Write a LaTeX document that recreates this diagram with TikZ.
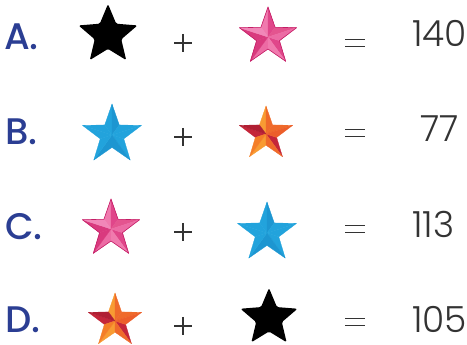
\documentclass[tikz,border=0pt]{standalone}
\usepackage{fontspec}
\setmainfont{Poppins}
\newfontfamily\numfont{Poppins Light}
\newfontfamily\lblfont{Poppins Medium}
\definecolor{lblue}{HTML}{2B3E93}
\definecolor{ink}{HTML}{333333}
\tikzset{
  lbl/.style={font=\lblfont\fontsize{37}{40}\selectfont, text=lblue, inner sep=0pt, anchor=base west},
  num/.style={font=\numfont\fontsize{36}{40}\selectfont, text=ink, inner sep=0pt, anchor=base west},
  sym/.style={draw=ink, line width=1.3pt},
}
\newcommand\facetstar[4]{%
  \begin{scope}[shift={(#1,#2)},yscale=-1]
  \foreach \k/\ca/\cb in {#4} {
    \filldraw[fill=\ca,draw=\ca,line width=0.3pt,line join=round] (0,0) -- (90+72*\k:#3) -- (126+72*\k:0.4*#3) -- cycle;
    \filldraw[fill=\cb,draw=\cb,line width=0.3pt,line join=round] (0,0) -- (54+72*\k:0.4*#3) -- (90+72*\k:#3) -- cycle;
  }
  \end{scope}}
\newcommand\blackstar[3]{%
  \begin{scope}[shift={(#1,#2)},yscale=-1]
  \fill[black,rounded corners=1.5pt] (90:#3) -- (126:0.45*#3) -- (162:#3) -- (198:0.45*#3) -- (234:#3) -- (270:0.45*#3) -- (306:#3) -- (342:0.45*#3) -- (18:#3) -- (54:0.45*#3) -- cycle;
  \end{scope}}
\newcommand\starline[4]{%
  \begin{scope}[shift={(#1,#2)},yscale=-1]
  \draw[#4,line width=0.6pt,line join=round] (90:#3) -- (126:0.4*#3) -- (162:#3) -- (198:0.4*#3) -- (234:#3) -- (270:0.4*#3) -- (306:#3) -- (342:0.4*#3) -- (18:#3) -- (54:0.4*#3) -- cycle;
  \end{scope}}
\newcommand\pinkstar[2]{%
  \facetstar{#1}{#2}{30}{0/{pk1}/{pk2},1/{pk3}/{pk4},2/{pk5}/{pk3},3/{pk2}/{pk1},4/{pk6}/{pk5}}%
  \starline{#1}{#2}{30}{pkline}}
\newcommand\bluestar[3]{%
  \facetstar{#1}{#2}{#3}{0/{bl1}/{bl2},1/{bl1}/{bl1},2/{bl2}/{bl1},3/{bl1}/{bl2},4/{bl1}/{bl1}}}
\newcommand\orangestar[3]{%
  \facetstar{#1}{#2}{#3}{0/{or1}/{or2},1/{rd1}/{rd2},2/{or1}/{or3},3/{rd1}/{or2},4/{or2}/{or4}}}
\definecolor{pk1}{HTML}{F07AAE}
\definecolor{pk2}{HTML}{E0468A}
\definecolor{pk3}{HTML}{D93A7E}
\definecolor{pk4}{HTML}{F187B8}
\definecolor{pk5}{HTML}{EC6BA4}
\definecolor{pk6}{HTML}{E4548F}
\definecolor{pkline}{HTML}{C41E66}
\definecolor{bl1}{HTML}{22A3DC}
\definecolor{bl2}{HTML}{1D96D1}
\definecolor{or1}{HTML}{F89B33}
\definecolor{or2}{HTML}{EF6A2B}
\definecolor{or3}{HTML}{F47E28}
\definecolor{or4}{HTML}{EC5E2A}
\definecolor{rd1}{HTML}{C4263A}
\definecolor{rd2}{HTML}{B01F33}
\begin{document}
\begin{tikzpicture}[x=1pt,y=-1pt]
\useasboundingbox (0,0) rectangle (467,345);
% labels
\node[lbl] (la) at (4,50) {A.};
\node[lbl] (lb) at (5,145) {B.};
\node[lbl] (lc) at (5,240) {C.};
\node[lbl] (ld) at (5,332) {D.};
% star centres
\coordinate (sA1) at (108,35);
\coordinate (sA2) at (268,37);
\coordinate (sB1) at (112,135);
\coordinate (sB2) at (266,134);
\coordinate (sC1) at (111,229);
\coordinate (sC2) at (267,233);
\coordinate (sD1) at (115,321);
\coordinate (sD2) at (269,318);
\blackstar{108}{35}{31}
\pinkstar{268}{37}
\bluestar{112}{135}{31}
\orangestar{266}{134}{28}
\pinkstar{111}{229}
\bluestar{267}{233}{31}
\orangestar{115}{321}{28}
\blackstar{269}{318}{30}
% plus signs
\foreach \y in {43,137,232,326} {
  \draw[sym] (174,\y) -- (192,\y);
  \draw[sym] (183,\y-9) -- (183,\y+9);
}
% equals signs
\foreach \y in {43,133,229,322} {
  \draw[sym,line width=1.2pt] (345,\y-3.5) -- (365,\y-3.5);
  \draw[sym,line width=1.2pt] (345,\y+3.5) -- (365,\y+3.5);
}
% numbers
\node[num] (nA) at (412,47) {140};
\node[num,anchor=base east] (nB) at (459,142) {77};
\node[num] (nC) at (412,238) {113};
\node[num] (nD) at (412,332) {105};
\end{tikzpicture}
\end{document}
